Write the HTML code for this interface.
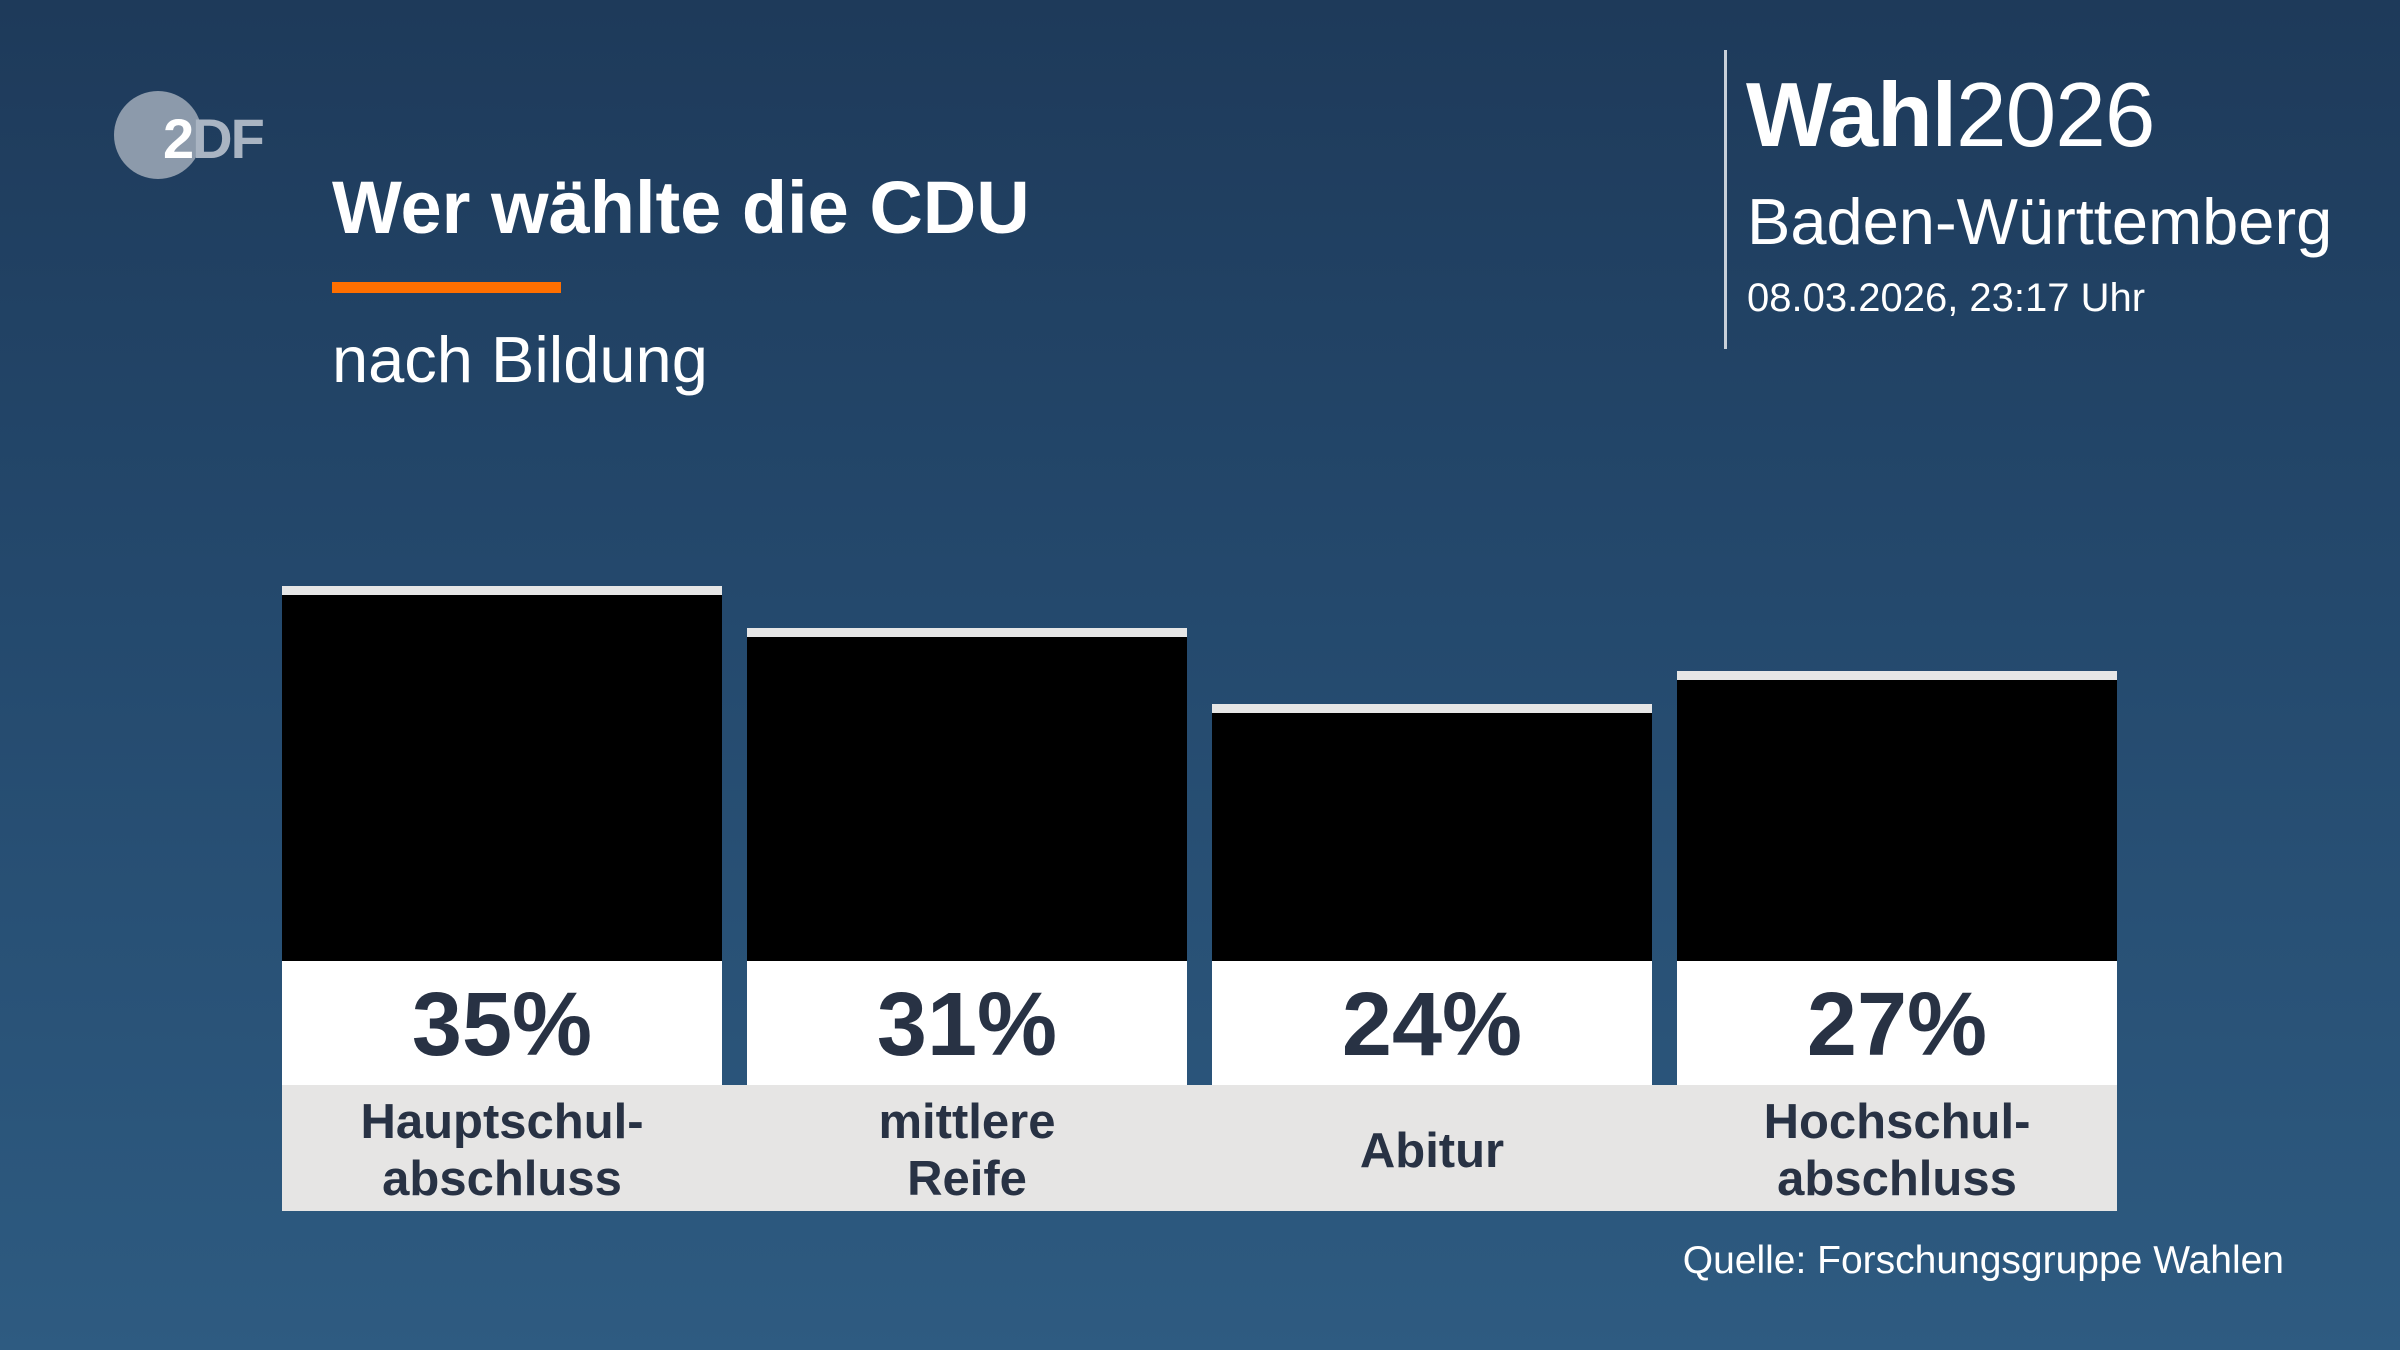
<!DOCTYPE html>
<html><head><meta charset="utf-8"><style>
*{margin:0;padding:0;box-sizing:border-box}
body{width:2400px;height:1350px;overflow:hidden;background:linear-gradient(180deg,#1e3a5a 0%,#24496d 45%,#2e5b81 100%);font-family:"Liberation Sans",sans-serif;position:relative;color:#fff}
.a{position:absolute;white-space:nowrap}
.bar{position:absolute;width:440px;top:0;height:0}
.stripe{position:absolute;left:0;right:0;height:9px;background:#e6e6e6}
.blk{position:absolute;left:0;right:0;background:#000}
.wh{position:absolute;left:0;right:0;top:961px;height:124px;background:#fff;text-align:center;font-weight:bold;font-size:90px;line-height:128px;color:#283244}
.gr{position:absolute;top:1085px;height:126px;background:#e6e5e4;color:#283244;font-weight:bold;font-size:49px;line-height:57px;text-align:center;display:flex;align-items:center;justify-content:center;padding-top:6px}
</style></head><body>
<div class="a" style="left:114px;top:91px;width:88px;height:88px;border-radius:50%;background:#8c9aab"></div>
<div class="a" style="left:163px;top:106px;font-size:56px;font-weight:bold;color:#fff;letter-spacing:-2px">2<span style="color:#a9b4c2">DF</span></div>
<div class="a" style="left:332px;top:165px;font-size:74px;font-weight:bold">Wer wählte die CDU</div>
<div class="a" style="left:332px;top:282px;width:229px;height:11px;background:#ff6f00"></div>
<div class="a" style="left:332px;top:322px;font-size:65px">nach Bildung</div>
<div class="a" style="left:1724px;top:50px;width:3px;height:299px;background:#c8d0da"></div>
<div class="a" style="left:1746px;top:64px;font-size:91px;letter-spacing:-1px"><b>Wahl</b>2026</div>
<div class="a" style="left:1747px;top:184px;font-size:65px">Baden-Württemberg</div>
<div class="a" style="left:1747px;top:276px;font-size:40px">08.03.2026, 23:17 Uhr</div>
<div class="a" style="right:116px;top:1239px;font-size:39px">Quelle: Forschungsgruppe Wahlen</div>

<div class="bar" style="left:282px">
<div class="stripe" style="top:586px"></div><div class="blk" style="top:595px;height:366px"></div><div class="wh">35%</div></div>
<div class="bar" style="left:747px">
<div class="stripe" style="top:628px"></div><div class="blk" style="top:637px;height:324px"></div><div class="wh">31%</div></div>
<div class="bar" style="left:1212px">
<div class="stripe" style="top:704px"></div><div class="blk" style="top:713px;height:248px"></div><div class="wh">24%</div></div>
<div class="bar" style="left:1677px">
<div class="stripe" style="top:671px"></div><div class="blk" style="top:680px;height:281px"></div><div class="wh">27%</div></div>

<div class="gr a" style="left:282px;width:1835px"></div>
<div class="gr a" style="left:282px;width:440px">Hauptschul-<br>abschluss</div>
<div class="gr a" style="left:747px;width:440px">mittlere<br>Reife</div>
<div class="gr a" style="left:1212px;width:440px">Abitur</div>
<div class="gr a" style="left:1677px;width:440px">Hochschul-<br>abschluss</div>
</body></html>
